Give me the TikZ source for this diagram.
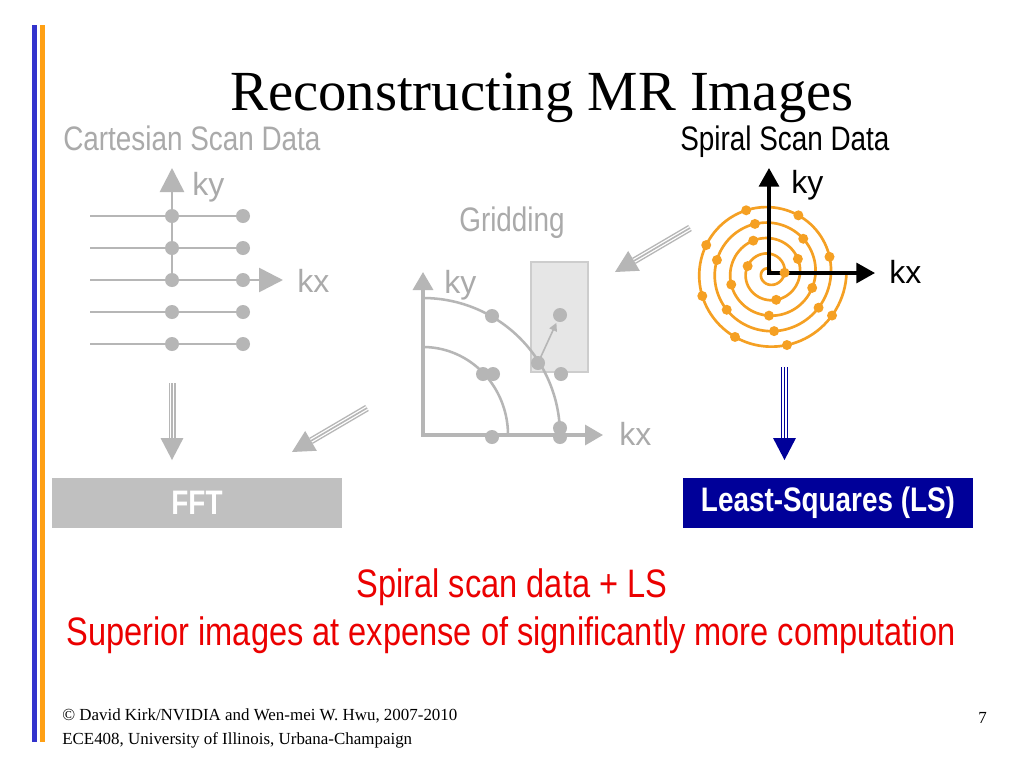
\documentclass[tikz,border=0pt]{standalone}
\usepackage{fontspec}
\setmainfont{Liberation Serif}
\newfontfamily\narrowsans[FakeStretch=0.82]{Liberation Sans}
\newfontfamily\plainsans{Liberation Sans}
\usetikzlibrary{arrows.meta,calc}
\definecolor{lgray}{RGB}{182,182,182}
\definecolor{tgray}{RGB}{170,170,170}
\definecolor{boxgray}{RGB}{192,192,192}
\definecolor{rectgray}{RGB}{230,230,230}
\definecolor{rectline}{RGB}{205,205,205}
\definecolor{orng}{RGB}{245,160,35}
\definecolor{navy}{RGB}{0,0,153}
\definecolor{barblue}{RGB}{51,51,204}
\definecolor{barorange}{RGB}{255,160,20}
\definecolor{redtxt}{RGB}{235,0,0}
\newcommand\stripedarrow[3]{%
  \coordinate (#2b) at ($(#3)!16.5pt!(#2)$);
  \draw[#1, line width=5.25pt] (#2) -- (#2b);
  \draw[white, line width=3.1pt] (#2) -- (#2b);
  \draw[#1, line width=1.2pt] (#2) -- (#2b);
  \fill[#1] (#3) -- ($(#2b)!8.6pt!90:(#2)$) -- ($(#2b)!8.6pt!-90:(#2)$) -- cycle;
}
\begin{document}
\begin{tikzpicture}[x=0.75pt,y=-0.75pt,
  gtext/.style={text=tgray, font=\narrowsans\fontsize{25.5pt}{30pt}\selectfont, inner sep=0pt},
  stext/.style={text=black, font=\narrowsans\fontsize{25.5pt}{30pt}\selectfont, inner sep=0pt},
  ktext/.style={font=\plainsans\fontsize{24pt}{28pt}\selectfont, inner sep=0pt, anchor=base west},
  redtext/.style={text=redtxt, font=\narrowsans\fontsize{29.8pt}{34pt}\selectfont, inner sep=0pt, anchor=base},
  boxtext/.style={font=\narrowsans\bfseries\fontsize{25.5pt}{30pt}\selectfont, text=white,
     minimum width=217.5pt, minimum height=37.5pt, inner sep=0pt},
  foot/.style={font=\fontsize{12.7pt}{15pt}\selectfont, inner sep=0pt, anchor=base west},
  gline/.style={draw=lgray, line width=2pt},
  gdot/.style={circle, fill=lgray, minimum size=10.5pt, inner sep=0pt},
  sdot/.style={circle, fill=orng, minimum size=7.5pt, inner sep=0pt},
  bigtip/.style={-{Triangle[length=18pt,width=18pt]}},
]
\useasboundingbox (0,0) rectangle (1024,768);
\fill[white] (0,0) rectangle (1024,768);
% side bars
\fill[barblue] (32,25) rectangle (37,742);
\fill[barorange] (40,25) rectangle (45,742);
% title and headings
\node[anchor=base, inner sep=0pt, font=\fontsize{42.5pt}{50pt}\selectfont] (title) at (542,110) {Reconstructing MR Images};
\node[gtext, anchor=base west] (cart) at (63,150) {Cartesian Scan Data};
\node[stext, anchor=base west] (spir) at (680,150) {Spiral Scan Data};
\node[gtext] (grid) at (512,223) {Gridding};

% ---- Cartesian scan
\foreach \r/\y in {1/216,2/248,3/280,4/312,5/344}{
  \coordinate (cl\r) at (90,\y);
  \node[gdot] (ca\r) at (172,\y) {};
  \node[gdot] (cb\r) at (243,\y) {};
}
\draw[gline] (cl1) -- (cb1.center);
\draw[gline] (cl2) -- (cb2.center);
\draw[gline] (cl4) -- (cb4.center);
\draw[gline] (cl5) -- (cb5.center);
\coordinate (ckx) at (283,280);
\coordinate (cky) at (172,168);
\draw[gline, bigtip] (cl3) -- (ckx);
\draw[gline, bigtip] (ca3.center) -- (cky);
\node[ktext, text=tgray] (ckylab) at (192,195) {ky};
\node[ktext, text=tgray] (ckxlab) at (297,292) {kx};

% ---- Gridding
\filldraw[fill=rectgray, draw=rectline, line width=0.8pt] (531,262) rectangle (588,372);
\coordinate (gy) at (423,272);
\coordinate (go) at (423,435);
\coordinate (gx) at (603,435);
\draw[draw=lgray, line width=2.5pt, {Triangle[length=13.5pt,width=15pt]}-{Triangle[length=13.5pt,width=15pt]}] (gy) -- (go) -- (gx);
\draw[draw=lgray, line width=1.9pt] plot[domain=0:90, samples=60, variable=\a] ({423+137*cos(\a)},{435-137*sin(\a)});
\draw[draw=lgray, line width=1.9pt] plot[domain=0:90, samples=60, variable=\a] ({423+85*cos(\a)},{435-88*sin(\a)});
\node[gdot] (g1) at (492,316) {};
\node[gdot] (g2) at (560,315) {};
\node[gdot] (g3) at (538,363) {};
\node[gdot] (g4) at (561,374) {};
\node[gdot] (g5) at (483,374) {};
\node[gdot] (g6) at (493,374) {};
\node[gdot] (g7) at (492,437) {};
\node[gdot] (g8) at (560,428) {};
\node[gdot] (g9) at (560,437) {};
\draw[draw=lgray, line width=1.2pt, -{Triangle[length=6pt,width=6pt]}, shorten >=1pt] (g3.center) -- (g2);
\node[ktext, text=tgray] (gylab) at (444,293) {ky};
\node[ktext, text=tgray] (gxlab) at (619,445) {kx};

% ---- Spiral
\draw[orng, line width=2pt] plot[domain=0:1800, samples=500, variable=\t] ({769+15.5*(\t/360)*cos(\t)},{273-15.5*(\t/360)*sin(\t)});
\coordinate (sy) at (769,168);
\coordinate (so) at (769,273);
\coordinate (sx) at (875,273);
\draw[black, line width=2.4pt, {Triangle[length=14pt,width=15pt]}-{Triangle[length=14pt,width=15pt]}] (sy) -- (so) -- (sx);
\foreach \t [count=\i] in {361,522,645,746,836,917,990,1061,1125,1186,1246,1301,1355,1405,1455,1503,1550,1596,1639,1682,1724,1766}
  \node[sdot] (s\i) at ({769+15.5*(\t/360)*cos(\t)},{273-15.5*(\t/360)*sin(\t)}) {};
\node[ktext] (sylab) at (791,193) {ky};
\node[ktext] (sxlab) at (889,283) {kx};

% ---- striped arrows
\coordinate (a1t) at (172,383);  \coordinate (a1p) at (172,460);
\coordinate (a2t) at (367,408);  \coordinate (a2p) at (292,452);
\coordinate (a3t) at (690,228);  \coordinate (a3p) at (615,272);
\coordinate (a4t) at (784.5,367);\coordinate (a4p) at (784.5,460);
\stripedarrow{lgray}{a1t}{a1p}
\stripedarrow{lgray}{a2t}{a2p}
\stripedarrow{lgray}{a3t}{a3p}
\stripedarrow{navy}{a4t}{a4p}

% ---- boxes
\node[boxtext, fill=boxgray] (fft) at (197,503) {FFT};
\node[boxtext, fill=navy] (ls) at (828,503) {Least-Squares (LS)};

% ---- red conclusion
\node[redtext] (r1) at (512,597) {Spiral scan data + LS};
\node[redtext] (r2) at (511,645) {Superior images at expense of significantly more computation};

% ---- footer
\node[foot] (f1) at (62,720) {© David Kirk/NVIDIA and Wen-mei W. Hwu, 2007-2010};
\node[foot] (f2) at (62,744) {ECE408, University of Illinois, Urbana-Champaign};
\node[foot] (pg) at (978,723) {7};
\end{tikzpicture}
\end{document}
